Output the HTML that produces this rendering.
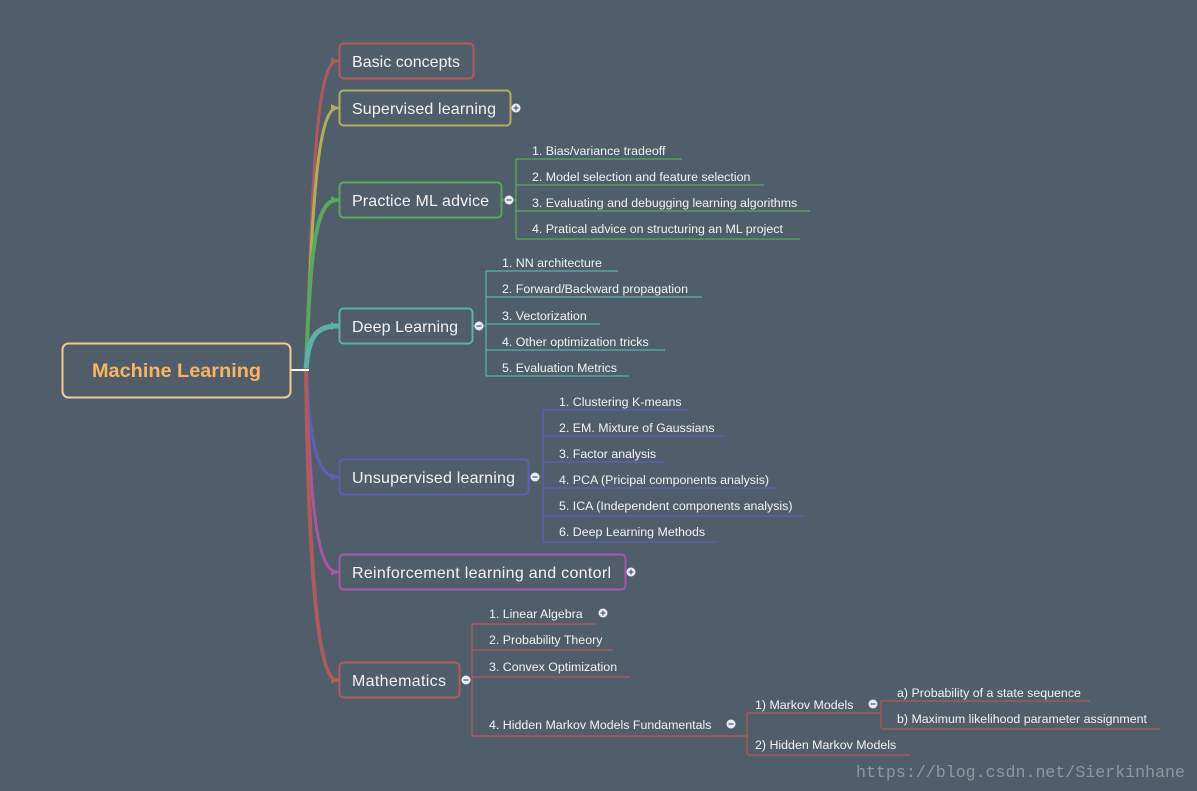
<!DOCTYPE html>
<html><head><meta charset="utf-8"><style>
html,body{margin:0;padding:0;background:#505e6b;}
svg{display:block;font-family:"Liberation Sans","DejaVu Sans",sans-serif;}
.n{font-size:16px;fill:#f2f2f2;}
.s{font-size:12.4px;fill:#f2f2f2;}
</style></head><body>
<svg width="1197" height="791" viewBox="0 0 1197 791" xmlns="http://www.w3.org/2000/svg">
<rect width="1197" height="791" fill="#505e6b"/>
<g fill="none" stroke-linecap="round">
<path d="M306,370 C312,200 315,61 337,61" stroke="#b05a5a" stroke-width="3"/>
<path d="M306,370 C312,220 316,108 337,108" stroke="#b0ae5a" stroke-width="3"/>
<path d="M306,370 C310,260 314,200 337,200" stroke="#5aa85a" stroke-width="4"/>
<path d="M306,370 C308,340 314,326 337,326" stroke="#5bb0aa" stroke-width="5"/>
<path d="M306,370 C310,430 314,477 337,477" stroke="#5d5fb0" stroke-width="3"/>
<path d="M306,370 C310,480 314,572 337,572" stroke="#a855aa" stroke-width="3"/>
<path d="M306,370 C308,520 314,680 337,680" stroke="#b05a5a" stroke-width="4"/>
</g>
<g>
<path d="M331,57 L339,61 L331,65z" fill="#b05a5a"/>
<path d="M331,104 L339,108 L331,112z" fill="#b0ae5a"/>
<path d="M331,196 L339,200 L331,204z" fill="#5aa85a"/>
<path d="M331,322 L339,326 L331,330z" fill="#5bb0aa"/>
<path d="M331,473 L339,477 L331,481z" fill="#5d5fb0"/>
<path d="M331,568 L339,572 L331,576z" fill="#a855aa"/>
<path d="M331,676 L339,680 L331,684z" fill="#b05a5a"/>
</g>
<line x1="291" y1="370" x2="309" y2="370" stroke="#fff" stroke-width="2"/>
<rect x="62.5" y="343.5" width="228" height="54" rx="6" fill="#505e6b" stroke="#f3c98f" stroke-width="2"/>
<text x="92" y="377" font-size="19" font-weight="bold" fill="#f8b460" textLength="169" lengthAdjust="spacingAndGlyphs">Machine Learning</text>
<g fill="#505e6b" stroke-width="2">
<rect x="339.5" y="43.5" width="134" height="35" rx="4" stroke="#b05a5a"/>
<rect x="339.5" y="90.5" width="171" height="35" rx="4" stroke="#b0ae5a"/>
<rect x="339.5" y="182.5" width="162" height="35" rx="4" stroke="#5aa85a"/>
<rect x="339.5" y="308.5" width="133" height="35" rx="4" stroke="#5bb0aa"/>
<rect x="339.5" y="459.5" width="189" height="35" rx="4" stroke="#5d5fb0"/>
<rect x="339.5" y="554.5" width="286" height="35" rx="4" stroke="#a855aa"/>
<rect x="339.5" y="662.5" width="120" height="35" rx="4" stroke="#b05a5a"/>
</g>
<text class="n" x="352" y="67" textLength="108">Basic concepts</text>
<text class="n" x="352" y="114" textLength="144">Supervised learning</text>
<text class="n" x="352" y="206" textLength="137">Practice ML advice</text>
<text class="n" x="352" y="332" textLength="106">Deep Learning</text>
<text class="n" x="352" y="483" textLength="163">Unsupervised learning</text>
<text class="n" x="352" y="578" textLength="259">Reinforcement learning and contorl</text>
<text class="n" x="352" y="686" textLength="94">Mathematics</text>
<g fill="none" stroke="#5aa85a" stroke-width="1.3">
<path d="M502,200 H516 M516,159 V239 M516,159 H682 M516,185 H764 M516,211 H810 M516,239 H800"/>
</g>
<text class="s" x="532" y="155">1. Bias/variance tradeoff</text>
<text class="s" x="532" y="181">2. Model selection and feature selection</text>
<text class="s" x="532" y="207">3. Evaluating and debugging learning algorithms</text>
<text class="s" x="532" y="233">4. Pratical advice on structuring an ML project</text>
<g fill="none" stroke="#5bb0aa" stroke-width="1.3">
<path d="M473,326 H486 M486,271 V376 M486,271 H618 M486,297 H702 M486,324 H600 M486,350 H665 M486,376 H629"/>
</g>
<text class="s" x="502" y="267">1. NN architecture</text>
<text class="s" x="502" y="293">2. Forward/Backward propagation</text>
<text class="s" x="502" y="320">3. Vectorization</text>
<text class="s" x="502" y="346">4. Other optimization tricks</text>
<text class="s" x="502" y="372">5. Evaluation Metrics</text>
<g fill="none" stroke="#5d5fb0" stroke-width="1.3">
<path d="M529,477 H543 M543,410 V542 M543,410 H689 M543,436 H725 M543,462 H664 M543,488 H777 M543,516 H804 M543,542 H717"/>
</g>
<text class="s" x="559" y="406">1. Clustering K-means</text>
<text class="s" x="559" y="432">2. EM. Mixture of Gaussians</text>
<text class="s" x="559" y="458">3. Factor analysis</text>
<text class="s" x="559" y="484">4. PCA (Pricipal components analysis)</text>
<text class="s" x="559" y="510">5. ICA (Independent components analysis)</text>
<text class="s" x="559" y="536">6. Deep Learning Methods</text>
<g fill="none" stroke="#b05a5a" stroke-width="1.3">
<path d="M460,680 H472 M472,624 V736 M472,624 H596 M472,650 H613 M472,677 H630 M472,736 H740"/>
<path d="M740,736 H747 M747,713 V752 Q747,755 750,755 H910 M747,713 H865"/>
<path d="M865,713 H881 M881,701 V726 Q881,729 884,729 H1160 M881,701 H1090"/>
</g>
<text class="s" x="489" y="618">1. Linear Algebra</text>
<text class="s" x="489" y="644">2. Probability Theory</text>
<text class="s" x="489" y="671">3. Convex Optimization</text>
<text class="s" x="489" y="729">4. Hidden Markov Models Fundamentals</text>
<text class="s" x="755" y="709">1) Markov Models</text>
<text class="s" x="755" y="749">2) Hidden Markov Models</text>
<text class="s" x="897" y="697">a) Probability of a state sequence</text>
<text class="s" x="897" y="723">b) Maximum likelihood parameter assignment</text>
<g fill="#e8ecf4">
<circle cx="516" cy="108" r="4.5"/><circle cx="509" cy="200" r="4.5"/>
<circle cx="479" cy="326" r="4.5"/><circle cx="535" cy="477" r="4.5"/>
<circle cx="631" cy="572" r="4.5"/><circle cx="466" cy="680" r="4.5"/>
<circle cx="603" cy="613" r="4.5"/><circle cx="731" cy="724" r="4.5"/>
<circle cx="873" cy="704" r="4.5"/>
</g>
<g stroke="#505e6b" stroke-width="1.3">
<path d="M513.5,108 H518.5 M516,105.5 V110.5"/>
<path d="M628.5,572 H633.5 M631,569.5 V574.5"/>
<path d="M600.5,613 H605.5 M603,610.5 V615.5"/>
<path d="M506.5,200 H511.5 M476.5,326 H481.5 M532.5,477 H537.5 M463.5,680 H468.5 M728.5,724 H733.5 M870.5,704 H875.5"/>
</g>
<text x="856" y="777" font-family="Liberation Mono, monospace" font-size="17" fill="#8e979f" textLength="329" lengthAdjust="spacingAndGlyphs">https://blog.csdn.net/Sierkinhane</text>
</svg>
</body></html>
